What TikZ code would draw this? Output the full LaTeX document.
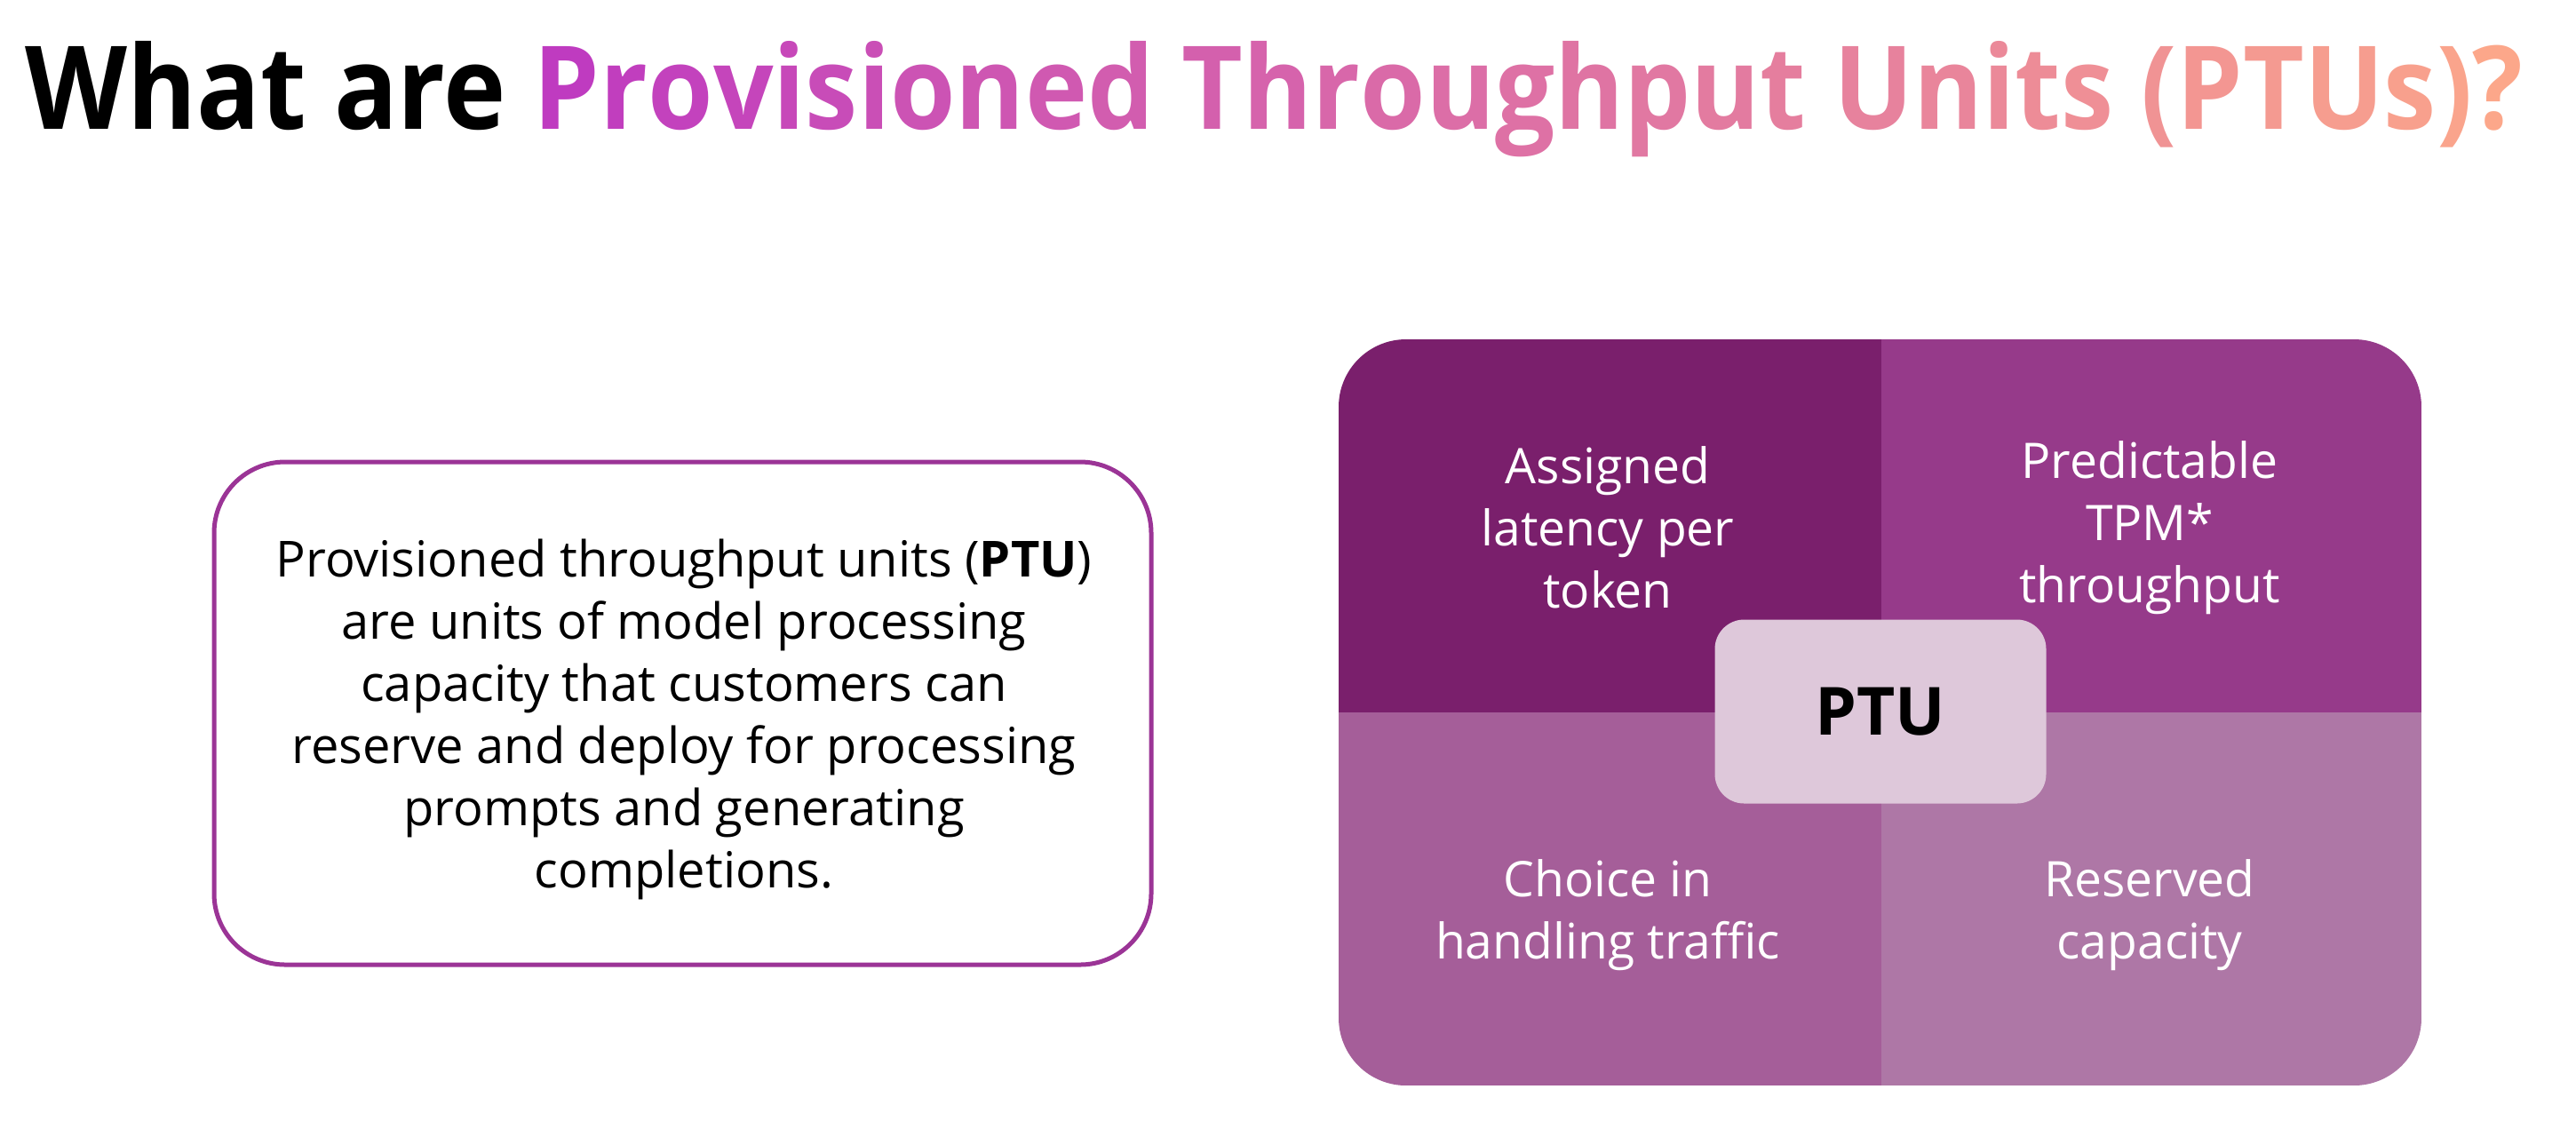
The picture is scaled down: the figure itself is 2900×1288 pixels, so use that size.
\documentclass[tikz,border=0pt]{standalone}
\usepackage{fontspec}
\setmainfont{Open Sans}
\usepackage{xcolor}
\usepackage{graphicx}

\definecolor{gradA}{RGB}{191,59,192}
\definecolor{gradB}{RGB}{252,167,138}
\definecolor{frame}{RGB}{155,52,150}
\definecolor{qTL}{RGB}{122,31,108}
\definecolor{qTR}{RGB}{150,58,138}
\definecolor{qBL}{RGB}{165,94,153}
\definecolor{qBR}{RGB}{174,119,166}
\definecolor{hub}{RGB}{222,200,218}

% letter-by-letter colour gradient for the title
\makeatletter
\newcount\gidx
\newcommand\gradword[1]{%
  \@tfor\gch:=#1\do{%
    \pgfmathsetmacro\gpct{100-100*\the\gidx/32}%
    \textcolor{gradA!\gpct!gradB}{\gch}\global\advance\gidx by 1\relax}}
\makeatother

\tikzset{
  quadtext/.style={text=white, align=center, inner sep=0pt,
    font=\fontsize{13.8}{17.5}\selectfont},
}

\begin{document}
\begin{tikzpicture}[x=0.25pt, y=-0.25pt]
\useasboundingbox (0,0) rectangle (2900,1288);
\fill[white] (0,0) rectangle (2900,1288);

% title, set to the full width of the heading line
\node[anchor=base west, inner sep=0pt, font=\fontsize{32.6}{36}\selectfont\bfseries]
  (title) at (28,145) {\resizebox{702.75pt}{\height}{\global\gidx=0 What are
  \gradword{Provisioned} \gradword{Throughput} \gradword{Units} \gradword{(PTUs)?}}};

% definition box
\draw[frame, line width=1.25pt, rounded corners=20pt] (241,520) rectangle (1296,1086);
\node[align=center, inner sep=0pt, font=\fontsize{14}{17.5}\selectfont] (def) at (770,810)
  {Provisioned throughput units (\textbf{PTU})\\
   are units of model processing\\
   capacity that customers can\\
   reserve and deploy for processing\\
   prompts and generating\\
   completions.};

% quadrant panel
\begin{scope}
  \clip[rounded corners=19pt] (1507,382) rectangle (2726,1222);
  \fill[qTL] (1507,382) rectangle (2118,802);
  \fill[qTR] (2118,382) rectangle (2726,802);
  \fill[qBL] (1507,802) rectangle (2118,1222);
  \fill[qBR] (2118,802) rectangle (2726,1222);
\end{scope}

\node[quadtext] (q1) at (1810,594) {Assigned\\latency per\\token};
\node[quadtext] (q2) at (2420,594) {Predictable\\TPM*\\throughput};
\node[quadtext] (q3) at (1810,1030) {Choice in\\handling traffic};
\node[quadtext] (q4) at (2420,1030) {Reserved\\capacity};

\node[fill=hub, rounded corners=8.25pt, minimum width=93.25pt, minimum height=51.75pt,
  inner sep=0pt, font=\fontsize{18.7}{20}\selectfont\bfseries] (ptu) at (2117,801) {PTU};
\end{tikzpicture}
\end{document}
